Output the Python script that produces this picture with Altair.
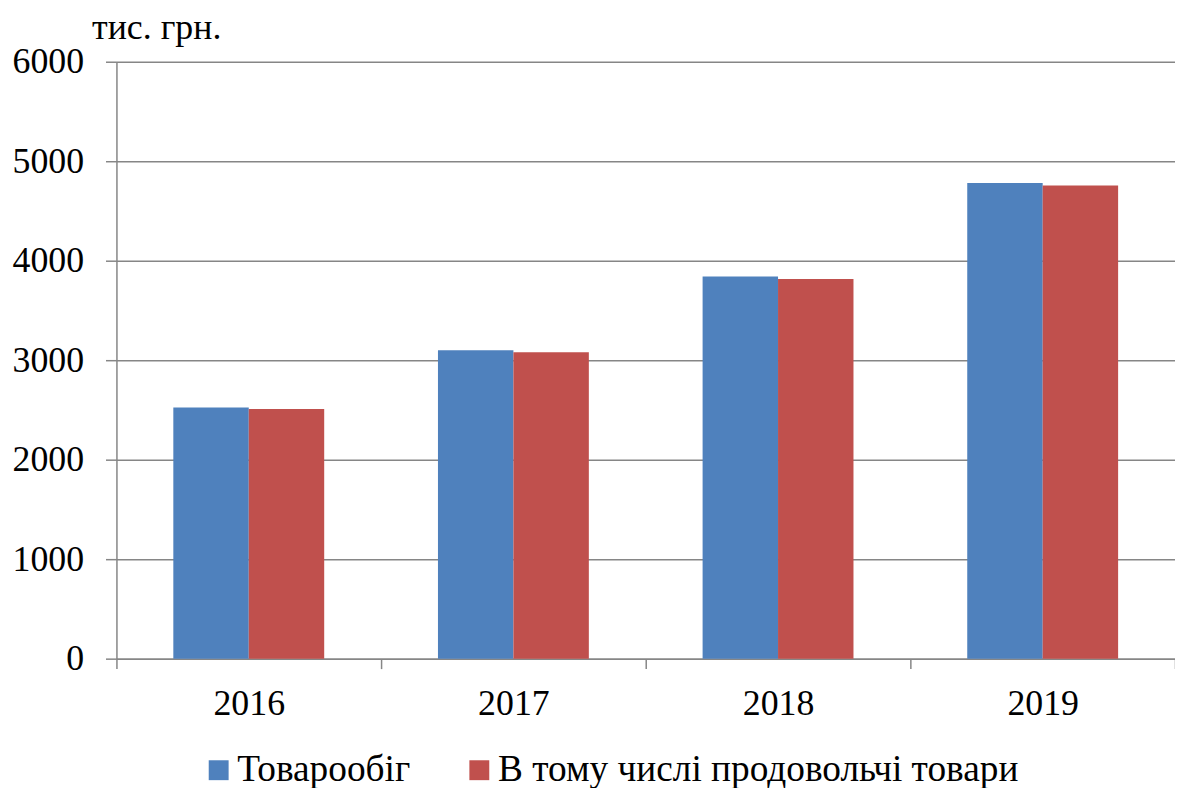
import altair as alt
import pandas as pd

years = ["2016", "2017", "2018", "2019"]
series_names = ["Товарообіг", "В тому числі продовольчі товари"]
turnover = [2525, 3100, 3840, 4780]
food = [2510, 3080, 3815, 4755]
colors = ["#4F81BD", "#C0504D"]

rows = []
for i, y in enumerate(years):
    rows.append({"year": y, "series": series_names[0], "value": turnover[i]})
    rows.append({"year": y, "series": series_names[1], "value": food[i]})
df = pd.DataFrame(rows)

FONT = "Liberation Serif"
GRAY = "#868686"

chart = alt.Chart(df).mark_bar().encode(
    x=alt.X("year:N", sort=years,
            scale=alt.Scale(paddingInner=0, paddingOuter=0),
            axis=alt.Axis(title=None, labelAngle=0, labelFontSize=36, labelFont=FONT,
                          labelColor="black", labelPadding=18, tickBand="extent",
                          tickSize=10, tickColor=GRAY, tickWidth=1.5,
                          domainColor=GRAY, domainWidth=1.5, grid=False)),
    xOffset=alt.XOffset("series:N", sort=series_names,
                        scale=alt.Scale(paddingInner=0, paddingOuter=0.754)),
    y=alt.Y("value:Q",
            scale=alt.Scale(domain=[0, 6000]),
            axis=alt.Axis(values=[0, 1000, 2000, 3000, 4000, 5000, 6000], format="d",
                          title="тис. грн.", titleAngle=0, titleAlign="left",
                          titleBaseline="alphabetic", titleX=-25, titleY=-23,
                          titleFont=FONT, titleFontSize=36, titleFontWeight="normal",
                          titleColor="black",
                          labelFontSize=36, labelFont=FONT, labelColor="black",
                          labelPadding=22, tickSize=11, tickColor=GRAY, tickWidth=1.5,
                          domainColor=GRAY, domainWidth=1.5,
                          gridColor=GRAY, gridWidth=1.5)),
    color=alt.Color("series:N", sort=series_names,
                    scale=alt.Scale(domain=series_names, range=colors),
                    legend=alt.Legend(title=None, orient="none", legendX=84, legendY=693,
                                      direction="horizontal", symbolType="square",
                                      symbolSize=400, symbolStrokeWidth=0,
                                      labelFont=FONT, labelFontSize=37.5, labelColor="black",
                                      labelLimit=1000, labelOffset=0, columnPadding=50)),
).properties(
    width=1064, height=600,
    autosize=alt.AutoSizeParams(type="none"),
    padding={"left": 109, "top": 52, "right": 0, "bottom": 128},
).configure_view(stroke=None)

chart.save("out.html", embed_options={"renderer": "svg", "actions": False})
